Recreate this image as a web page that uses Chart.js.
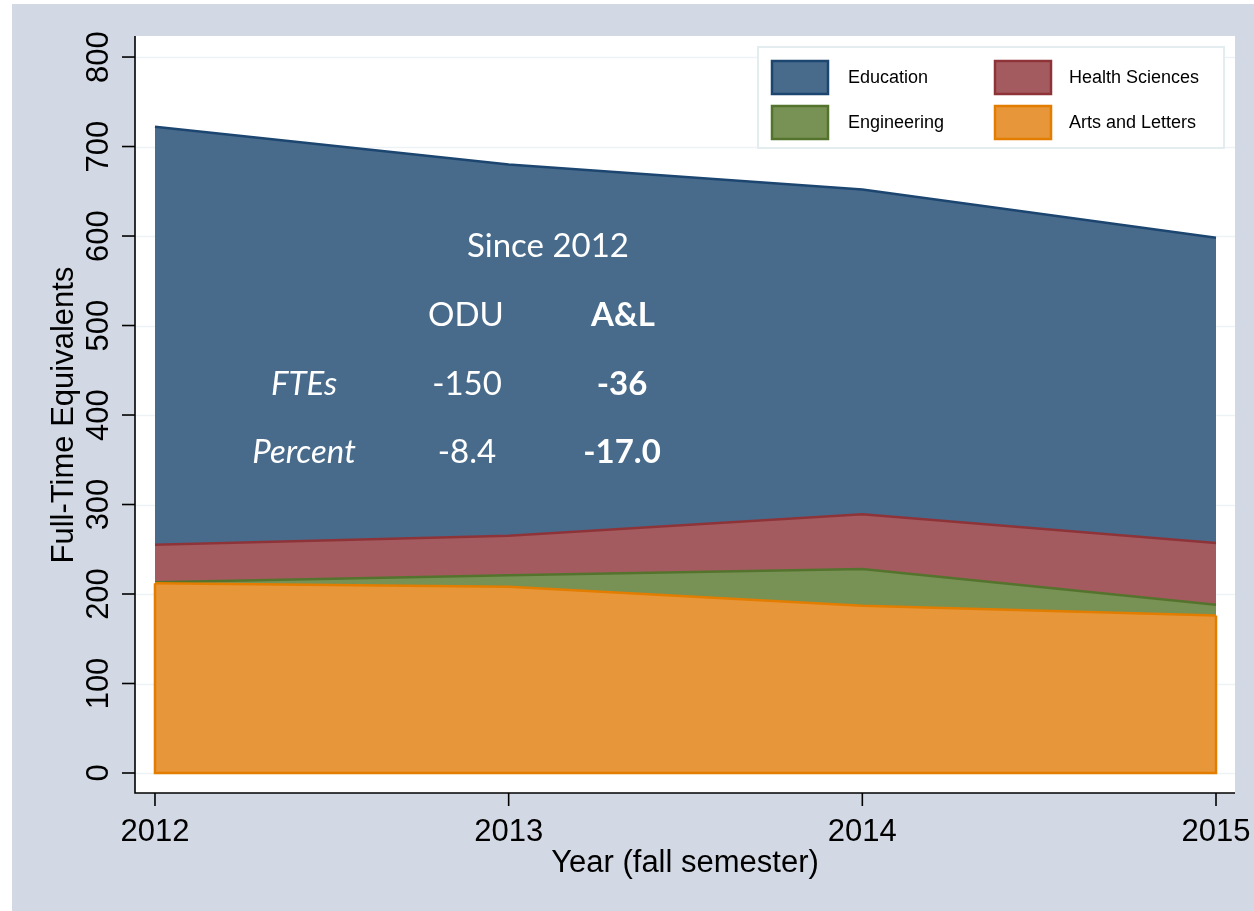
<!DOCTYPE html>
<html>
<head>
<meta charset="utf-8">
<script src="https://cdn.jsdelivr.net/npm/chart.js@4"></script>
<style>
  html, body { margin: 0; padding: 0; background: #fff; }
  canvas { display: block; }
</style>
</head>
<body>
<canvas id="grafica" width="1254" height="911"></canvas>
<script>
// FTEs por college (apilados)
const years = [2012, 2013, 2014, 2015];
const artsLetters = [212, 208, 187, 176];
const engineering = [1, 13, 41, 12];
const healthSciences = [42, 44, 61, 69];
const education = [467, 415, 363, 341];
const yTicks = [0, 100, 200, 300, 400, 500, 600, 700, 800];

const legendItems = [
    { label: 'Education', fill: '#486b8c', border: '#1c4670' },
    { label: 'Health Sciences', fill: '#a45b5f', border: '#8e3439' },
    { label: 'Engineering', fill: '#789155', border: '#54742e' },
    { label: 'Arts and Letters', fill: '#e8963a', border: '#e27d00' }
];
const colorOf = Object.fromEntries(legendItems.map(l => [l.label, l]));

// tabla de texto dentro del grafico
const resumen = [
    { text: 'Since 2012', x: 548, y: 257, style: '' },
    { text: 'ODU', x: 466, y: 326, style: '' },
    { text: 'A&L', x: 623, y: 326, style: 'bold' },
    { text: 'FTEs', x: 304, y: 395, style: 'italic' },
    { text: '-150', x: 467, y: 395, style: '' },
    { text: '-36', x: 622, y: 395, style: 'bold' },
    { text: 'Percent', x: 304, y: 463, style: 'italic' },
    { text: '-8.4', x: 467, y: 463, style: '' },
    { text: '-17.0', x: 622, y: 463, style: 'bold' }
];

const AXIS_FONT = '31px "Liberation Sans", Arial, sans-serif';

function serie(label, valores, fill) {
    const c = colorOf[label];
    return {
        label: label,
        data: years.map((yr, i) => ({ x: yr, y: valores[i] })),
        backgroundColor: c.fill,
        borderColor: c.border,
        borderWidth: 2.5,
        pointRadius: 0,
        tension: 0,
        fill: fill
    };
}

const fondo = {
    id: 'fondo',
    beforeDraw(chart) {
        const { ctx, chartArea: a, scales: { y } } = chart;
        ctx.save();
        ctx.fillStyle = '#ffffff';
        ctx.fillRect(0, 0, chart.width, chart.height);
        ctx.fillStyle = '#d3d9e4';
        ctx.fillRect(12, 4, chart.width - 12, chart.height - 4);
        ctx.fillStyle = '#ffffff';
        ctx.fillRect(a.left, a.top, a.right - a.left, a.bottom - a.top);
        // lineas de la rejilla
        ctx.strokeStyle = '#edf3f5';
        ctx.lineWidth = 1.5;
        yTicks.forEach(v => {
            const py = Math.round(y.getPixelForValue(v)) + 0.5;
            ctx.beginPath();
            ctx.moveTo(a.left, py);
            ctx.lineTo(a.right, py);
            ctx.stroke();
        });
        ctx.restore();
    },
    afterDatasetsDraw(chart) {
        // borde inferior y lados del area naranja
        const { ctx, scales: { x, y } } = chart;
        const x0 = x.getPixelForValue(years[0]);
        const x1 = x.getPixelForValue(years[years.length - 1]);
        const base = y.getPixelForValue(0);
        ctx.save();
        ctx.strokeStyle = colorOf['Arts and Letters'].border;
        ctx.lineWidth = 2.5;
        ctx.beginPath();
        ctx.moveTo(x0, y.getPixelForValue(artsLetters[0]));
        ctx.lineTo(x0, base);
        ctx.lineTo(x1, base);
        ctx.lineTo(x1, y.getPixelForValue(artsLetters[artsLetters.length - 1]));
        ctx.stroke();
        ctx.restore();
    },
    afterDraw(chart) {
        const { ctx, chartArea: a, scales: { x, y } } = chart;
        ctx.save();
        // ejes
        ctx.strokeStyle = '#000';
        ctx.lineWidth = 1.6;
        ctx.beginPath();
        ctx.moveTo(a.left, a.top);
        ctx.lineTo(a.left, a.bottom);
        ctx.lineTo(a.right, a.bottom);
        ctx.stroke();

        ctx.fillStyle = '#000';
        ctx.font = AXIS_FONT;
        // eje y: marcas y etiquetas giradas
        yTicks.forEach(v => {
            const py = y.getPixelForValue(v);
            ctx.beginPath();
            ctx.moveTo(a.left - 13, py);
            ctx.lineTo(a.left, py);
            ctx.stroke();
            ctx.save();
            ctx.translate(108, py);
            ctx.rotate(-Math.PI / 2);
            ctx.textAlign = 'center';
            ctx.textBaseline = 'alphabetic';
            ctx.fillText(String(v), 0, 0);
            ctx.restore();
        });
        // eje x
        years.forEach(yr => {
            const px = x.getPixelForValue(yr);
            ctx.beginPath();
            ctx.moveTo(px, a.bottom);
            ctx.lineTo(px, a.bottom + 13);
            ctx.stroke();
            ctx.textAlign = 'center';
            ctx.textBaseline = 'alphabetic';
            ctx.fillText(String(yr), px, 841);
        });
        // titulos
        ctx.textAlign = 'center';
        ctx.fillText('Year (fall semester)', 685, 872);
        ctx.save();
        ctx.translate(73, 415);
        ctx.rotate(-Math.PI / 2);
        ctx.fillText('Full-Time Equivalents', 0, 0);
        ctx.restore();

        // leyenda
        ctx.fillStyle = '#fff';
        ctx.fillRect(758, 47, 466, 101);
        ctx.strokeStyle = '#e3ecef';
        ctx.lineWidth = 2;
        ctx.strokeRect(758, 47, 466, 101);
        ctx.font = '18px "Liberation Sans", Arial, sans-serif';
        ctx.textAlign = 'left';
        ctx.textBaseline = 'middle';
        legendItems.forEach((it, i) => {
            const col = i % 2, row = Math.floor(i / 2);
            const sx = col === 0 ? 772 : 995;
            const sy = row === 0 ? 61 : 106;
            ctx.fillStyle = it.fill;
            ctx.fillRect(sx, sy, 56, 33);
            ctx.strokeStyle = it.border;
            ctx.lineWidth = 2.5;
            ctx.strokeRect(sx, sy, 56, 33);
            ctx.fillStyle = '#000';
            ctx.fillText(it.label, col === 0 ? 848 : 1069, sy + 17);
        });

        // texto blanco
        ctx.fillStyle = '#ffffff';
        ctx.textAlign = 'center';
        ctx.textBaseline = 'alphabetic';
        resumen.forEach(t => {
            ctx.font = (t.style ? t.style + ' ' : '') + '33px Lato, "Open Sans", sans-serif';
            ctx.fillText(t.text, t.x, t.y);
        });
        ctx.restore();
    }
};

const ctx = document.getElementById('grafica').getContext('2d');
const chart = new Chart(ctx, {
    type: 'line',
    data: {
        datasets: [
            serie('Arts and Letters', artsLetters, 'origin'),
            serie('Engineering', engineering, '-1'),
            serie('Health Sciences', healthSciences, '-1'),
            serie('Education', education, '-1')
        ]
    },
    options: {
        responsive: false,
        animation: false,
        devicePixelRatio: 1,
        layout: { padding: { left: 135, top: 36, right: 19, bottom: 118 } },
        scales: {
            x: { type: 'linear', display: false, min: 2011.9435, max: 2015.0537 },
            y: { type: 'linear', display: false, stacked: true, min: -22.35, max: 823.5 }
        },
        plugins: {
            legend: { display: false },
            tooltip: { enabled: false }
        }
    },
    plugins: [fondo]
});
</script>
</body>
</html>
